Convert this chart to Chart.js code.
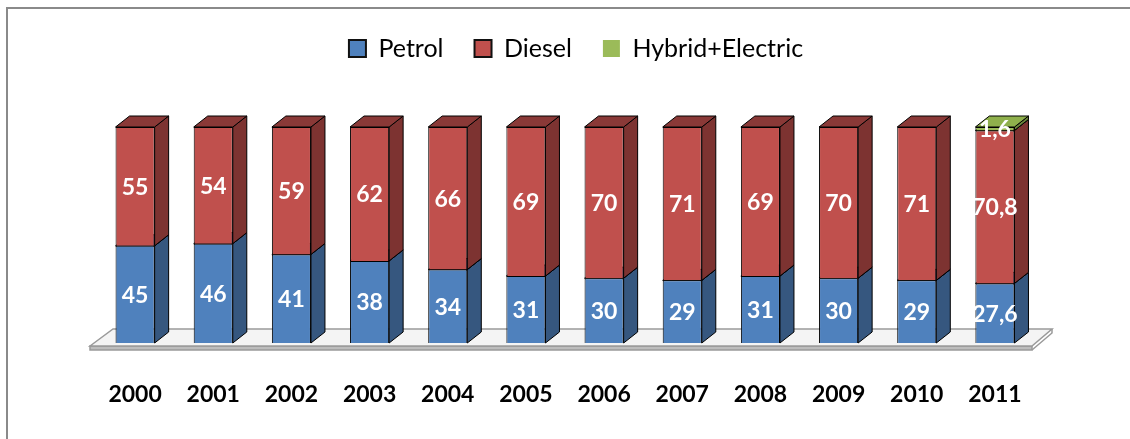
<!DOCTYPE html>
<html>
<head>
<meta charset="utf-8">
<script src="https://cdn.jsdelivr.net/npm/chart.js"></script>
<style>
  body { margin: 0; background: #fff; }
  #wrap { position: relative; width: 1130px; height: 439px; }
  #frame { position: absolute; left: 6px; top: 7px; right: 0; bottom: 0;
           border-top: 2px solid #8a8a8a; border-left: 2px solid #8a8a8a; pointer-events: none; }
</style>
</head>
<body>
<div id="wrap">
  <canvas id="chart" width="1130" height="439"></canvas>
  <div id="frame"></div>
</div>
<script>
const years = ['2000', '2001', '2002', '2003', '2004', '2005', '2006', '2007', '2008', '2009', '2010', '2011'];
const petrol = [45, 46, 41, 38, 34, 31, 30, 29, 31, 30, 29, 27.6];
const diesel = [55, 54, 59, 62, 66, 69, 70, 71, 69, 70, 71, 70.8];
const hybrid = [null, null, null, null, null, null, null, null, null, null, null, 1.6];

const frontColors = ['#4f81bd', '#c0504d', '#9bbb59'];
const sideColors = ['#36577f', '#7d3331', '#6b843b'];
const topColors = ['#3f6596', '#8a3937', '#8fb04c'];
const depthX = 14, depthY = 11;

// draws the floor plate and the side / top faces behind the front faces
const bars3d = {
    id: 'bars3d',
    beforeDatasetsDraw(chart) {
        const ctx = chart.ctx;
        const a = chart.chartArea;
        ctx.save();
        // floor
        ctx.lineWidth = 1.5;
        ctx.strokeStyle = '#9a9a9a';
        ctx.fillStyle = '#bdbdbd';
        ctx.beginPath();
        ctx.moveTo(a.left - 6, a.bottom + 3);
        ctx.lineTo(a.right - 2, a.bottom + 3);
        ctx.lineTo(a.right - 2, a.bottom + 7);
        ctx.lineTo(a.left - 6, a.bottom + 7);
        ctx.closePath();
        ctx.fill();
        ctx.stroke();
        ctx.fillStyle = '#f4f4f4';
        ctx.beginPath();
        ctx.moveTo(a.left - 6, a.bottom + 3);
        ctx.lineTo(a.left + 17, a.bottom - 14);
        ctx.lineTo(a.right + 18, a.bottom - 14);
        ctx.lineTo(a.right - 2, a.bottom + 3);
        ctx.closePath();
        ctx.fill();
        ctx.stroke();
        ctx.beginPath();
        ctx.moveTo(a.right + 18, a.bottom - 14);
        ctx.lineTo(a.right + 18, a.bottom - 10);
        ctx.lineTo(a.right - 2, a.bottom + 7);
        ctx.stroke();

        ctx.lineWidth = 1;
        ctx.strokeStyle = '#000';
        chart.data.datasets.forEach((ds, i) => {
            const meta = chart.getDatasetMeta(i);
            meta.data.forEach((el, j) => {
                if (ds.data[j] == null) return;
                const l = el.x - el.width / 2, r = el.x + el.width / 2;
                const t = Math.min(el.y, el.base), b = Math.max(el.y, el.base);
                ctx.fillStyle = sideColors[i];
                ctx.beginPath();
                ctx.moveTo(r, t);
                ctx.lineTo(r + depthX, t - depthY);
                ctx.lineTo(r + depthX, b - depthY);
                ctx.lineTo(r, b);
                ctx.closePath();
                ctx.fill();
                ctx.stroke();
                ctx.fillStyle = topColors[i];
                ctx.beginPath();
                ctx.moveTo(l, t);
                ctx.lineTo(l + depthX, t - depthY);
                ctx.lineTo(r + depthX, t - depthY);
                ctx.lineTo(r, t);
                ctx.closePath();
                ctx.fill();
                ctx.stroke();
            });
        });
        ctx.restore();
    },
    afterDatasetsDraw(chart) {
        const ctx = chart.ctx;
        ctx.save();
        ctx.font = 'bold 23px Lato';
        ctx.fillStyle = '#fff';
        ctx.textAlign = 'center';
        ctx.textBaseline = 'middle';
        chart.data.datasets.forEach((ds, i) => {
            const meta = chart.getDatasetMeta(i);
            meta.data.forEach((el, j) => {
                const v = ds.data[j];
                if (v == null) return;
                ctx.fillText(String(v).replace('.', ','), el.x, (el.y + el.base) / 2 + 1);
            });
        });
        ctx.restore();
    }
};

// extra room under the legend, and nudge it a bit to the right
const legendTweak = {
    id: 'legendTweak',
    beforeInit(chart) {
        const lg = chart.legend;
        const fit = lg.fit;
        lg.fit = function () {
            fit.bind(this)();
            this.height += 56;
        };
        const draw = lg.draw;
        lg.draw = function () {
            chart.ctx.save();
            chart.ctx.translate(11, 0);
            draw.apply(this, arguments);
            chart.ctx.restore();
        };
    }
};

new Chart(document.getElementById('chart'), {
    type: 'bar',
    data: {
        labels: years,
        datasets: [
            { label: 'Petrol', data: petrol, backgroundColor: frontColors[0] },
            { label: 'Diesel', data: diesel, backgroundColor: frontColors[1] },
            { label: 'Hybrid+Electric', data: hybrid, backgroundColor: frontColors[2] }
        ]
    },
    options: {
        responsive: false,
        animation: false,
        events: [],
        layout: { padding: { left: 96, right: 96, top: 5, bottom: 30 } },
        datasets: {
            bar: {
                borderColor: '#000',
                borderWidth: 1,
                categoryPercentage: 1,
                barPercentage: 0.5
            }
        },
        scales: {
            x: {
                stacked: true,
                grid: { display: false, drawTicks: false },
                border: { display: false },
                ticks: { color: '#000', padding: 38, font: { family: 'Lato', size: 23, weight: 'bold' } },
                afterFit(scale) { scale.height = 66; }
            },
            y: {
                stacked: true,
                display: false,
                min: 0,
                max: 100
            }
        },
        plugins: {
            tooltip: { enabled: false },
            legend: {
                position: 'top',
                labels: {
                    color: '#111',
                    font: { family: 'Lato', size: 25 },
                    boxWidth: 17,
                    boxHeight: 17,
                    padding: 31,
                    generateLabels(chart) {
                        return chart.data.datasets.map((ds, i) => ({
                            text: ds.label,
                            fillStyle: frontColors[i],
                            strokeStyle: i === 2 ? frontColors[2] : '#111',
                            lineWidth: i === 2 ? 0 : 2,
                            datasetIndex: i
                        }));
                    }
                }
            }
        }
    },
    plugins: [bars3d, legendTweak]
});
</script>
</body>
</html>
